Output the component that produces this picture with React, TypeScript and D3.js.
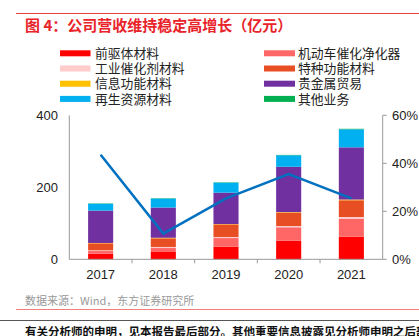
import React from "react";
import * as d3 from "d3";

const years = ["2017", "2018", "2019", "2020", "2021"];
const seriesNames = ["前驱体材料", "机动车催化净化器", "工业催化剂材料", "特种功能材料", "信息功能材料", "贵金属贸易", "再生资源材料", "其他业务"];
const seriesColors = ["#FF0000", "#FF6666", "#FFCCCC", "#E84E24", "#FFC000", "#7030A0", "#00B0F0", "#00B050"];
const precursor = [15.6, 20.3, 35, 51.7, 63];
const autoCat = [7.4, 11, 24, 37.3, 50];
const indCat = [2, 3, 3, 3.5, 4.5];
const special = [19.4, 24, 35, 37, 46.5];
const info = [1, 1.5, 1, 1.5, 2];
const trade = [90, 84, 87, 126, 145];
const recycle = [19, 25, 28, 32, 50];
const other = [1, 1, 1, 1, 1.5];
const growth = [43.6, 10.7, 25.4, 35.5, 25.4];
const leftTicks = [0, 200, 400];
const rightTicks = [0, 20, 40, 60];

const seriesValues = [precursor, autoCat, indCat, special, info, trade, recycle, other];

export default function App() {
  const W = 419, H = 336;
  const x0 = 69.3, x1 = 382.7, yTop = 115.3, yBot = 259.3;
  const x = d3.scaleBand().domain(years).range([x0, x1]).paddingInner(0.6).paddingOuter(0.3);
  const xc = d3.scaleBand().domain(years).range([x0, x1]);
  const y = d3.scaleLinear().domain([0, 400]).range([yBot, yTop]);
  const yr = d3.scaleLinear().domain([0, 60]).range([yBot, yTop]);
  const table = years.map((yr_, i) => {
    const o: any = { year: yr_ };
    seriesNames.forEach((n, j) => (o[n] = seriesValues[j][i]));
    return o;
  });
  const stacked = d3.stack().keys(seriesNames)(table);
  const line = d3
    .line<number>()
    .x((_, i) => (xc(years[i]) as number) + xc.bandwidth() / 2)
    .y((d) => yr(d));
  const font = "'Liberation Sans', Arial, sans-serif";
  const cjk = "'Noto Sans CJK SC', sans-serif";
  const legendLeft = [0, 2, 4, 6];
  const legendRight = [1, 3, 5, 7];
  return (
    <svg width={W} height={H} style={{ position: "absolute", left: 0, top: 0, background: "#fff" }}>
      <line x1={16} x2={419} y1={13.5} y2={13.5} stroke="#E8403C" strokeWidth={1} />
      <text x={25} y={30.5} fill="#E8232A" fontSize={15} fontWeight="bold" fontFamily={cjk}>
        图 4：公司营收维持稳定高增长（亿元）
      </text>
      {legendLeft.map((si, r) => (
        <g key={"ll" + si}>
          <rect x={60} y={50.3 + r * 15.2} width={30.5} height={6} fill={seriesColors[si]} />
          <text x={95} y={58 + r * 15.2} fontSize={12.8} fontFamily={cjk} fill="#222">
            {seriesNames[si]}
          </text>
        </g>
      ))}
      {legendRight.map((si, r) => (
        <g key={"lr" + si}>
          <rect x={264} y={50.3 + r * 15.2} width={31} height={6} fill={seriesColors[si]} />
          <text x={298} y={58 + r * 15.2} fontSize={12.8} fontFamily={cjk} fill="#222">
            {seriesNames[si]}
          </text>
        </g>
      ))}
      {stacked.map((s, j) => (
        <g key={s.key} fill={seriesColors[j]}>
          {s.map((d, i) => (
            <rect
              key={i}
              x={x(years[i]) as number}
              width={x.bandwidth()}
              y={y(d[1])}
              height={Math.max(0, y(d[0]) - y(d[1]))}
            />
          ))}
        </g>
      ))}
      <line x1={x0} x2={x0} y1={yTop} y2={yBot} stroke="#999" />
      <line x1={x1} x2={x1} y1={yTop} y2={yBot} stroke="#999" />
      <line x1={x0} x2={x1} y1={yBot} y2={yBot} stroke="#999" />
      {years.slice(1).map((yy) => (
        <line key={yy} x1={xc(yy)} x2={xc(yy)} y1={yBot} y2={yBot + 4} stroke="#999" />
      ))}
      {rightTicks.map((t) => (
        <g key={"r" + t}>
          <line x1={x1} x2={x1 + 4} y1={yr(t)} y2={yr(t)} stroke="#999" />
          <text x={392} y={yr(t) + 5} fontSize={13} fontFamily={font} fill="#222">
            {t + "%"}
          </text>
        </g>
      ))}
      {leftTicks.map((t) => (
        <text key={"l" + t} x={58} y={y(t) + 5} fontSize={13} fontFamily={font} fill="#222" textAnchor="end">
          {t}
        </text>
      ))}
      {years.map((yy) => (
        <text key={"x" + yy} x={(xc(yy) as number) + xc.bandwidth() / 2} y={279} fontSize={13} fontFamily={font} fill="#222" textAnchor="middle">
          {yy}
        </text>
      ))}
      <path d={line(growth) as string} fill="none" stroke="#0070C0" strokeWidth={2.5} />
      <text x={25} y={305} fontSize={11} fontFamily={cjk} fill="#999">
        数据来源：Wind，东方证券研究所
      </text>
      <line x1={16} x2={419} y1={309.5} y2={309.5} stroke="#F08080" strokeWidth={1} />
      <line x1={0} x2={419} y1={320.5} y2={320.5} stroke="#555" strokeWidth={1} />
      <text x={25} y={336} fontSize={11.5} fontWeight="bold" fontFamily={cjk} fill="#111">
        有关分析师的申明，见本报告最后部分。其他重要信息披露见分析师申明之后部分
      </text>
    </svg>
  );
}
